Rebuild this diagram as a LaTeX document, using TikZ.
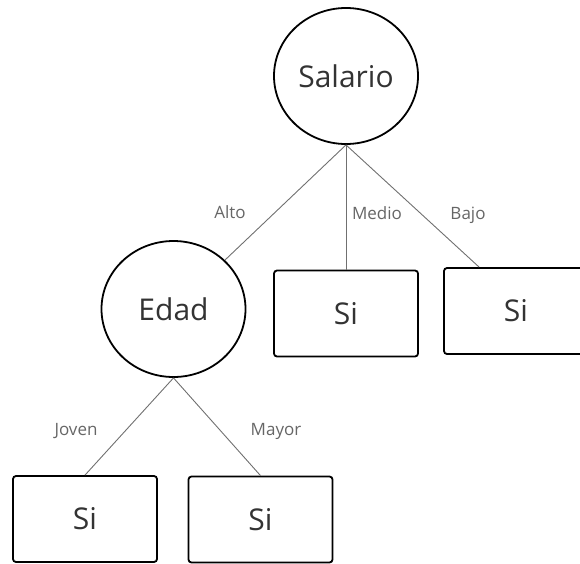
\documentclass[tikz,border=0pt]{standalone}
\usepackage{fontspec}
\setmainfont{Open Sans}
\usetikzlibrary{shapes.geometric,calc}
\definecolor{textgray}{HTML}{333333}
\definecolor{lblgray}{HTML}{666666}
\definecolor{linegray}{HTML}{707070}
\tikzset{
  decision/.style={ellipse, draw=black, line width=1.8pt, minimum width=144pt,
    minimum height=136pt, inner sep=0pt, text=textgray,
    font=\fontsize{30}{36}\selectfont},
  leaf/.style={rectangle, rounded corners=3pt, draw=black, line width=1.8pt,
    minimum width=144pt, minimum height=86pt, inner sep=0pt, text=textgray,
    font=\fontsize{30}{36}\selectfont},
  branch/.style={draw=linegray, line width=0.9pt},
  lbl/.style={text=lblgray, anchor=base, inner sep=0pt,
    font=\fontsize{17}{20}\selectfont},
}
\begin{document}
\begin{tikzpicture}[x=1pt, y=-1pt]
  \useasboundingbox (0,0) rectangle (580,563);
  \clip (0,0) rectangle (580,563);

  % decision nodes
  \node[decision] (sal) at (346,76) {Salario};
  \node[decision] (edad) at (173.5,309) {Edad};

  % leaves
  \node[leaf] (mid) at (346,313.5) {Si};
  \node[leaf] (right) at (516,311) {Si};
  \node[leaf] (young) at (85,519) {Si};
  \node[leaf] (old) at (260.5,519.5) {Si};
  \coordinate (rightin) at ($(right.north west)+(36,0)$);

  % branches
  \draw[branch] (sal.south) -- (edad);
  \draw[branch] (sal.south) -- (mid.north);
  \draw[branch] (sal.south) -- (rightin);
  \draw[branch] (edad.south) -- (young.north);
  \draw[branch] (edad.south) -- (old.north);

  % branch labels
  \node[lbl] (lalto) at (230,218) {Alto};
  \node[lbl] (lmedio) at (377,219) {Medio};
  \node[lbl] (lbajo) at (468,219) {Bajo};
  \node[lbl] (ljoven) at (76,435) {Joven};
  \node[lbl] (lmayor) at (276,435) {Mayor};
\end{tikzpicture}
\end{document}
